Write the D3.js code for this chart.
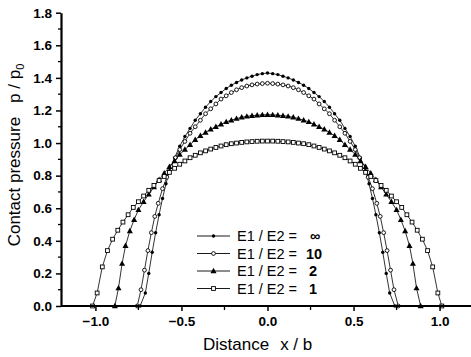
<!DOCTYPE html>
<html><head><meta charset="utf-8">
<script src="https://cdn.jsdelivr.net/npm/d3@7"></script>
<style>
html,body{margin:0;padding:0;background:#fff;}
svg{display:block;font-family:"Liberation Sans",Arial,Helvetica,sans-serif;}
</style></head>
<body>
<svg id="chart" width="471" height="357"></svg>
<script>
// ---- data ----
const xTicks = [-1.0, -0.5, 0.0, 0.5, 1.0];
const xMinorTicks = [-0.75, -0.25, 0.25, 0.75];
const yTicks = [0.0, 0.2, 0.4, 0.6, 0.8, 1.0, 1.2, 1.4, 1.6, 1.8];
const yMinorTicks = [0.1, 0.3, 0.5, 0.7, 0.9, 1.1, 1.3, 1.5, 1.7];

const seriesNames = ["\u221E", "10", "2", "1"];

const xInf = [-0.74,-0.71,-0.69,-0.67,-0.65,-0.63,-0.61,-0.59,-0.57,-0.54,-0.51,-0.48,-0.45,-0.42,-0.39,-0.36,-0.33,-0.30,-0.27,-0.24,-0.21,-0.18,-0.15,-0.12,-0.09,-0.06,-0.03,0,0.03,0.06,0.09,0.12,0.15,0.18,0.21,0.24,0.27,0.30,0.33,0.36,0.39,0.42,0.45,0.48,0.51,0.54,0.57,0.59,0.61,0.63,0.65,0.67,0.69,0.71,0.74];
const yInf = [0,0.08,0.2,0.33,0.45,0.56,0.66,0.75,0.83,0.91,0.98,1.04,1.09,1.14,1.18,1.22,1.255,1.285,1.31,1.335,1.355,1.372,1.387,1.40,1.41,1.42,1.426,1.43,1.426,1.42,1.41,1.40,1.387,1.372,1.355,1.335,1.31,1.285,1.255,1.22,1.18,1.14,1.09,1.04,0.98,0.91,0.83,0.75,0.66,0.56,0.45,0.33,0.2,0.08,0];

const x10 = [-0.757,-0.735,-0.715,-0.695,-0.675,-0.655,-0.635,-0.61,-0.585,-0.56,-0.535,-0.51,-0.48,-0.45,-0.42,-0.39,-0.36,-0.33,-0.30,-0.27,-0.24,-0.21,-0.18,-0.15,-0.12,-0.09,-0.06,-0.03,0,0.03,0.06,0.09,0.12,0.15,0.18,0.21,0.24,0.27,0.30,0.33,0.36,0.39,0.42,0.45,0.48,0.51,0.535,0.56,0.585,0.61,0.635,0.655,0.675,0.695,0.715,0.735,0.76];
const y10 = [0,0.1,0.22,0.34,0.45,0.55,0.63,0.72,0.79,0.855,0.91,0.96,1.01,1.06,1.10,1.14,1.18,1.21,1.24,1.27,1.29,1.31,1.327,1.34,1.35,1.357,1.362,1.365,1.367,1.365,1.362,1.357,1.35,1.34,1.327,1.31,1.29,1.27,1.24,1.21,1.18,1.14,1.10,1.06,1.01,0.96,0.91,0.855,0.79,0.72,0.63,0.55,0.45,0.34,0.22,0.1,0];

const x2 = [-0.887,-0.866,-0.845,-0.825,-0.80,-0.775,-0.75,-0.72,-0.69,-0.66,-0.63,-0.60,-0.57,-0.54,-0.51,-0.48,-0.45,-0.42,-0.39,-0.36,-0.33,-0.30,-0.27,-0.24,-0.21,-0.18,-0.15,-0.12,-0.09,-0.06,-0.03,0,0.03,0.06,0.09,0.12,0.15,0.18,0.21,0.24,0.27,0.30,0.33,0.36,0.39,0.42,0.45,0.48,0.51,0.54,0.57,0.60,0.63,0.66,0.69,0.72,0.75,0.775,0.80,0.825,0.845,0.866,0.89];
const y2 = [0,0.11,0.26,0.37,0.46,0.53,0.59,0.64,0.685,0.73,0.775,0.815,0.855,0.89,0.93,0.96,0.99,1.02,1.045,1.065,1.085,1.10,1.115,1.13,1.14,1.15,1.158,1.164,1.168,1.171,1.173,1.174,1.173,1.171,1.168,1.164,1.158,1.15,1.14,1.13,1.115,1.10,1.085,1.065,1.045,1.02,0.99,0.96,0.93,0.89,0.855,0.815,0.775,0.73,0.685,0.64,0.59,0.53,0.46,0.37,0.26,0.11,0];

const x1 = [-1.017,-0.99,-0.96,-0.93,-0.90,-0.87,-0.84,-0.81,-0.78,-0.75,-0.72,-0.69,-0.66,-0.63,-0.60,-0.57,-0.54,-0.51,-0.48,-0.45,-0.42,-0.39,-0.36,-0.33,-0.30,-0.27,-0.24,-0.21,-0.18,-0.15,-0.12,-0.09,-0.06,-0.03,0,0.03,0.06,0.09,0.12,0.15,0.18,0.21,0.24,0.27,0.30,0.33,0.36,0.39,0.42,0.45,0.48,0.51,0.54,0.57,0.60,0.63,0.66,0.69,0.72,0.75,0.78,0.81,0.84,0.87,0.90,0.93,0.96,0.99,1.013];
const y1 = [0,0.08,0.24,0.34,0.41,0.465,0.515,0.56,0.605,0.64,0.675,0.71,0.74,0.77,0.795,0.82,0.845,0.87,0.89,0.91,0.925,0.94,0.952,0.963,0.973,0.982,0.99,0.996,1.0,1.004,1.007,1.009,1.011,1.012,1.012,1.012,1.011,1.009,1.007,1.004,1.0,0.996,0.99,0.982,0.973,0.963,0.952,0.94,0.925,0.91,0.89,0.87,0.845,0.82,0.795,0.77,0.74,0.71,0.675,0.64,0.605,0.56,0.515,0.465,0.41,0.34,0.24,0.08,0];

// ---- chart ----
const svg = d3.select("#chart");
const x = d3.scaleLinear().domain([-1.2, 1.2]).range([61, 474]);
const y = d3.scaleLinear().domain([0, 1.8]).range([306, 12.7]);

const series = [
  {name: seriesNames[0], xs: xInf, ys: yInf, marker: "dot"},
  {name: seriesNames[1], xs: x10, ys: y10, marker: "circle"},
  {name: seriesNames[2], xs: x2, ys: y2, marker: "triangle"},
  {name: seriesNames[3], xs: x1, ys: y1, marker: "square"}
];

function drawMarker(g, type, cx, cy) {
  if (type === "dot") {
    g.append("circle").attr("cx", cx).attr("cy", cy).attr("r", 1.7).attr("fill", "#000");
  } else if (type === "circle") {
    g.append("circle").attr("cx", cx).attr("cy", cy).attr("r", 1.9)
      .attr("fill", "#fff").attr("stroke", "#000").attr("stroke-width", 0.9);
  } else if (type === "triangle") {
    const s = 3.2;
    g.append("path").attr("d", `M${cx},${cy - s}L${cx + s * 0.95},${cy + s * 0.7}L${cx - s * 0.95},${cy + s * 0.7}Z`)
      .attr("fill", "#000");
  } else {
    g.append("rect").attr("x", cx - 1.9).attr("y", cy - 1.9).attr("width", 3.8).attr("height", 3.8)
      .attr("fill", "#fff").attr("stroke", "#000").attr("stroke-width", 0.9);
  }
}

const line = d3.line().x(d => x(d[0])).y(d => y(d[1]));
const plot = svg.append("g");
series.forEach(s => {
  const pts = d3.zip(s.xs, s.ys);
  plot.append("path").datum(pts).attr("d", line)
    .attr("fill", "none").attr("stroke", "#000").attr("stroke-width", 0.8);
  const mg = plot.append("g");
  pts.forEach(p => drawMarker(mg, s.marker, x(p[0]), y(p[1])));
});

// axes
const xAxis = svg.append("g").attr("transform", `translate(0,${y(0)})`)
  .call(d3.axisBottom(x).tickValues(xTicks).tickSize(5).tickSizeOuter(0).tickPadding(5)
    .tickFormat(d3.format(".1f")));
xAxis.append("g").selectAll("line").data(xMinorTicks).join("line")
  .attr("x1", d => x(d)).attr("x2", d => x(d)).attr("y1", 0).attr("y2", 4)
  .attr("stroke", "#000").attr("stroke-width", 1.3);

const yAxis = svg.append("g").attr("transform", `translate(${x(-1.2)},0)`)
  .call(d3.axisLeft(y).tickValues(yTicks).tickSize(5).tickSizeOuter(0).tickPadding(4)
    .tickFormat(d3.format(".1f")));
yAxis.append("g").selectAll("line").data(yMinorTicks).join("line")
  .attr("y1", d => y(d)).attr("y2", d => y(d)).attr("x1", 0).attr("x2", -3)
  .attr("stroke", "#000").attr("stroke-width", 1.3);

[xAxis, yAxis].forEach(a => {
  a.select(".domain").attr("stroke", "#000").attr("stroke-width", 2.2);
  a.selectAll(".tick line").attr("stroke", "#000").attr("stroke-width", 1.5);
  a.selectAll(".tick text").attr("fill", "#000")
    .style("font-family", "'Liberation Sans', Arial, sans-serif")
    .style("font-size", "13.5px").style("font-weight", "bold");
});
xAxis.select(".domain").attr("d", `M${x(-1.2)},0H471`);

// axis titles
svg.append("text").attr("x", 203).attr("y", 349.5)
  .style("font-size", "17px").attr("fill", "#000")
  .text("Distance")
  .append("tspan").attr("dx", 11).text("x / b");

const yt = svg.append("text").attr("transform", "translate(20,155) rotate(-90)")
  .attr("text-anchor", "middle").style("font-size", "17px").attr("fill", "#000");
yt.append("tspan").text("Contact pressure");
yt.append("tspan").attr("dx", 14).text("p / p");
yt.append("tspan").attr("dy", 4).style("font-size", "11px").text("0");

// legend
const legendRows = [236, 253.5, 271, 288.5];
const legendValX = [310, 306, 309, 309];
const lg = svg.append("g");
series.forEach((s, i) => {
  const cy = legendRows[i];
  lg.append("line").attr("x1", 197).attr("x2", 230).attr("y1", cy).attr("y2", cy)
    .attr("stroke", "#000").attr("stroke-width", 0.9);
  drawMarker(lg, s.marker, 213.5, cy);
  lg.append("text").attr("x", 237).attr("y", cy + 5).style("font-size", "14.5px").attr("fill", "#000")
    .text("E1 / E2 =");
  lg.append("text").attr("x", legendValX[i]).attr("y", cy + 5).style("font-size", "14.5px").attr("fill", "#000")
    .style("font-weight", "bold").text(s.name);
});
</script>
</body></html>
